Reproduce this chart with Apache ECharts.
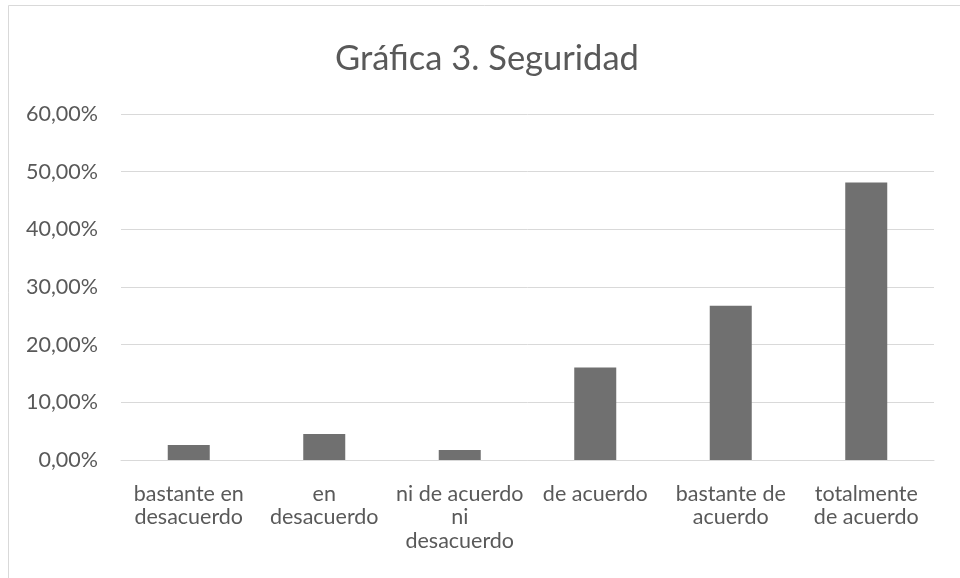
<!DOCTYPE html>
<html>
<head>
<meta charset="utf-8">
<script src="https://cdn.jsdelivr.net/npm/echarts@6/dist/echarts.min.js"></script>
<style>
  html, body { margin: 0; padding: 0; background: #fff; }
  #chart { width: 960px; height: 578px; }
</style>
</head>
<body>
<div id="chart"></div>
<script>
// Survey answers: share of respondents per agreement level
const categories = [
  'bastante en\ndesacuerdo',
  'en\ndesacuerdo',
  'ni de acuerdo\nni\ndesacuerdo',
  'de acuerdo',
  'bastante de\nacuerdo',
  'totalmente\nde acuerdo'
];
const values = [2.6, 4.5, 1.75, 16.05, 26.75, 48.1];
const yTicks = [0, 10, 20, 30, 40, 50, 60];

const FONT = 'Lato, "Open Sans", sans-serif';
const TEXT = '#595959';
const GRID = '#d9d9d9';

const chart = echarts.init(document.getElementById('chart'), null, { renderer: 'canvas' });
chart.setOption({
  animation: false,
  backgroundColor: '#fff',
  graphic: [{
    type: 'rect',
    shape: { x: 8.5, y: 5.5, width: 1000, height: 700 },
    style: { fill: 'none', stroke: GRID, lineWidth: 1 },
    silent: true,
    z: -1
  }],
  title: {
    text: 'Gráfica 3. Seguridad',
    left: 330,
    top: 36,
    textStyle: { fontFamily: FONT, fontSize: 34.5, fontWeight: 'normal', color: TEXT }
  },
  grid: { left: 121, right: 26, top: 114, bottom: 118, containLabel: false },
  xAxis: {
    type: 'category',
    data: categories,
    axisLine: { show: true, lineStyle: { color: GRID, width: 1 } },
    axisTick: { show: false },
    axisLabel: {
      fontFamily: FONT, fontSize: 21.5, color: TEXT,
      lineHeight: 23.5, margin: 22, interval: 0
    }
  },
  yAxis: {
    type: 'value',
    min: yTicks[0],
    max: yTicks[yTicks.length - 1],
    interval: 10,
    axisLine: { show: false },
    axisTick: { show: false },
    splitLine: { lineStyle: { color: GRID, width: 1 } },
    axisLabel: {
      fontFamily: FONT, fontSize: 21.5, color: TEXT, margin: 23,
      formatter: v => v.toFixed(2).replace('.', ',') + '%'
    }
  },
  series: [{
    type: 'bar',
    data: values,
    barWidth: '31%',
    itemStyle: { color: '#707070' }
  }]
});
</script>
</body>
</html>
